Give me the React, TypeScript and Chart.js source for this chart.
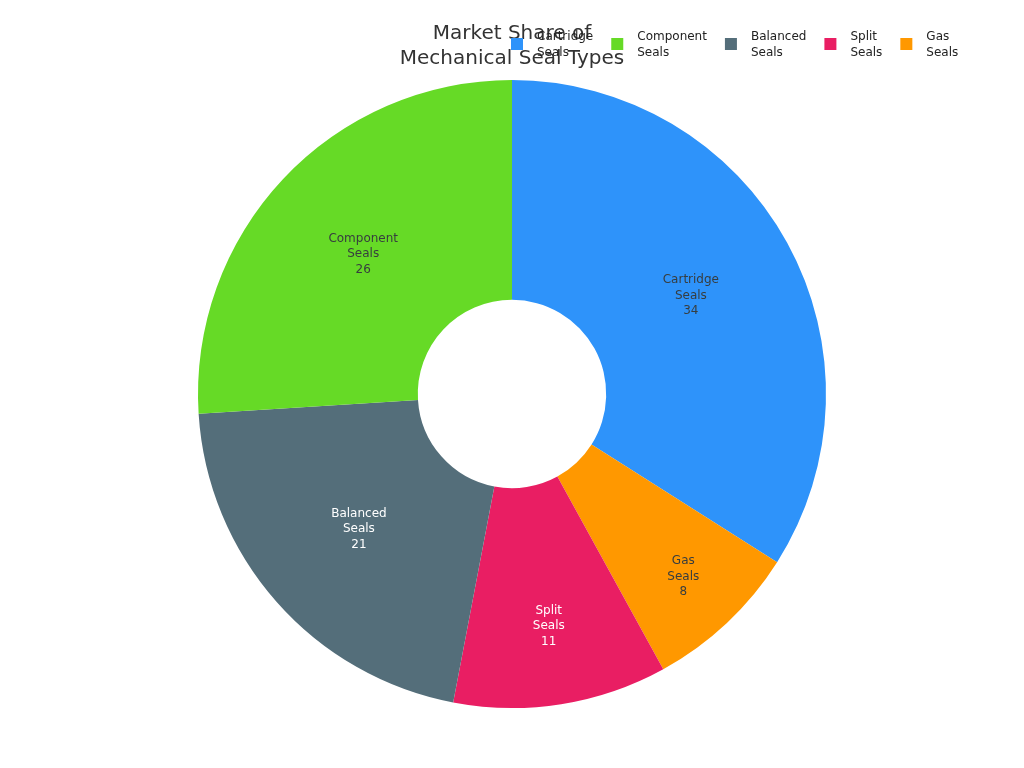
import { useEffect, useRef } from 'react';
import { Chart, registerables } from 'chart.js';

Chart.register(...registerables);

// slices clockwise from 12 o'clock
const sealTypes = ['Cartridge Seals', 'Gas Seals', 'Split Seals', 'Balanced Seals', 'Component Seals'];
const shares = [34, 8, 11, 21, 26];
// order the legend lists them in
const legendOrder = ['Cartridge Seals', 'Component Seals', 'Balanced Seals', 'Split Seals', 'Gas Seals'];

const colors = ['#2E93FA', '#FF9800', '#E91E63', '#546E7A', '#66DA26'];
const labelColors = ['#373d3f', '#373d3f', '#ffffff', '#ffffff', '#373d3f'];
// where the label sits between inner (0) and outer (1) radius; small slices push it outward
const labelDepth = [0.5, 0.71, 0.64, 0.5, 0.5];

const FONT = '"DejaVu Sans", sans-serif';

const overlayPlugin = {
  id: 'overlay',
  afterDatasetsDraw(chart: Chart) {
    const ctx = chart.ctx;
    const meta = chart.getDatasetMeta(0);

    // slice labels
    ctx.save();
    ctx.font = `12px ${FONT}`;
    ctx.textAlign = 'center';
    ctx.textBaseline = 'middle';
    meta.data.forEach((arc: any, i: number) => {
      const { x: cx, y: cy, startAngle, endAngle, innerRadius, outerRadius } = arc.getProps(
        ['x', 'y', 'startAngle', 'endAngle', 'innerRadius', 'outerRadius'],
        true
      );
      const mid = (startAngle + endAngle) / 2;
      const r = innerRadius + (outerRadius - innerRadius) * labelDepth[i];
      const x = cx + Math.cos(mid) * r;
      const y = cy + Math.sin(mid) * r;
      const lines = [...sealTypes[i].split(' '), String(shares[i])];
      ctx.fillStyle = labelColors[i];
      lines.forEach((line, j) => {
        ctx.fillText(line, x, y + (j - 1) * 15.5);
      });
    });
    ctx.restore();
  },
  afterDraw(chart: Chart) {
    const ctx = chart.ctx;

    // title
    ctx.save();
    ctx.font = `20px ${FONT}`;
    ctx.fillStyle = '#333333';
    ctx.textAlign = 'center';
    ctx.textBaseline = 'middle';
    ctx.fillText('Market Share of', 512, 34);
    ctx.fillText('Mechanical Seal Types', 512, 59);
    ctx.restore();

    // legend
    ctx.save();
    ctx.font = `12px ${FONT}`;
    ctx.textBaseline = 'middle';
    ctx.textAlign = 'left';
    let x = 511;
    legendOrder.forEach((name) => {
      const idx = sealTypes.indexOf(name);
      const lines = name.split(' ');
      ctx.fillStyle = colors[idx];
      ctx.fillRect(x, 38, 12, 12);
      ctx.fillStyle = '#222222';
      lines.forEach((line, j) => ctx.fillText(line, x + 26, 37 + j * 15.5));
      const w = Math.max(...lines.map((l) => ctx.measureText(l).width));
      x += 26 + w + 18;
    });
    ctx.restore();
  },
};

const App = () => {
  const canvasRef = useRef<HTMLCanvasElement | null>(null);
  const chartRef = useRef<Chart | null>(null);

  useEffect(() => {
    if (!canvasRef.current) return;
    if (chartRef.current) chartRef.current.destroy();

    chartRef.current = new Chart(canvasRef.current, {
      type: 'doughnut',
      data: {
        labels: sealTypes,
        datasets: [
          {
            data: shares,
            backgroundColor: colors,
            borderWidth: 0,
            hoverOffset: 0,
          },
        ],
      },
      options: {
        responsive: true,
        maintainAspectRatio: false,
        animation: false,
        cutout: '30%',
        layout: { padding: { top: 80, bottom: 60, left: 0, right: 0 } },
        plugins: {
          legend: { display: false },
          title: { display: false },
          tooltip: { enabled: false },
        },
      },
      plugins: [overlayPlugin],
    });

    return () => {
      chartRef.current?.destroy();
      chartRef.current = null;
    };
  }, []);

  return (
    <div style={{ position: 'absolute', left: 0, top: 0, width: 1024, height: 768, background: '#fff' }}>
      <canvas ref={canvasRef} />
    </div>
  );
};

export default App;
